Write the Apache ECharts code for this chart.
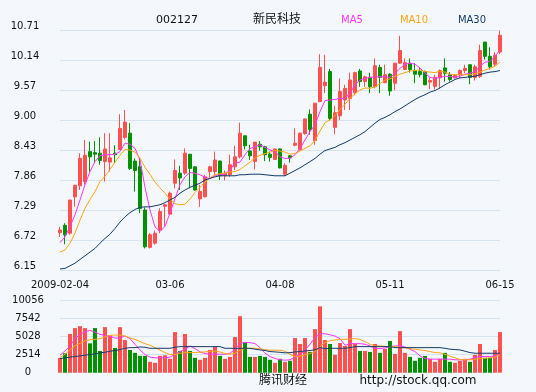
<!DOCTYPE html>
<html><head><meta charset="utf-8">
<script src="https://cdn.jsdelivr.net/npm/echarts@6/dist/echarts.min.js"></script>
<style>html,body{margin:0;padding:0;background:#f4f8fc}#c{width:536px;height:392px}</style>
</head><body><div id="c"></div>
<script>
const dates = ['2009-02-04','2009-02-05','2009-02-06','2009-02-09','2009-02-10','2009-02-11','2009-02-12','2009-02-13','2009-02-16','2009-02-17','2009-02-18','2009-02-19','2009-02-20','2009-02-23','2009-02-24','2009-02-25','2009-02-26','2009-02-27',
'2009-03-02','2009-03-03','2009-03-04','2009-03-05','2009-03-06','2009-03-09','2009-03-10','2009-03-11','2009-03-12','2009-03-13','2009-03-16','2009-03-17','2009-03-18','2009-03-19','2009-03-20','2009-03-23','2009-03-24','2009-03-25','2009-03-26','2009-03-27','2009-03-30','2009-03-31',
'2009-04-01','2009-04-02','2009-04-03','2009-04-07','2009-04-08','2009-04-09','2009-04-10','2009-04-13','2009-04-14','2009-04-15','2009-04-16','2009-04-17','2009-04-20','2009-04-21','2009-04-22','2009-04-23','2009-04-24','2009-04-27','2009-04-28','2009-04-29','2009-04-30',
'2009-05-04','2009-05-05','2009-05-06','2009-05-07','2009-05-08','2009-05-11','2009-05-12','2009-05-13','2009-05-14','2009-05-15','2009-05-18','2009-05-19','2009-05-20','2009-05-21','2009-05-22','2009-05-25','2009-05-26',
'2009-06-01','2009-06-02','2009-06-03','2009-06-04','2009-06-05','2009-06-08','2009-06-09','2009-06-10','2009-06-11','2009-06-12','2009-06-15'];
const labelIndexes = [0, 22, 44, 66, 88];

const opens = [6.86,7.00,6.85,7.54,7.75,7.83,8.40,8.38,8.37,8.21, 8.20,8.37,8.44,8.67,8.75,8.22,8.11,7.29,6.58,6.66,
 6.91,7.36,7.21,7.80,7.99,7.99,8.35,8.11,7.50,7.54, 8.02,8.02,8.22,7.94,7.96,8.11,8.30,8.70,8.41,8.21,
 8.54,8.49,8.35,8.25,8.45,7.97,8.32,8.52,8.44,8.74, 9.11,8.61,9.35,9.65,9.92,8.86,9.08,9.38,9.41,9.52,
 9.93,9.73,9.81,9.63,10.00,9.71,9.87,9.70,10.08,9.96, 10.08,9.94,9.92,9.92,9.72,9.64,9.80,9.99,9.86,9.80,
 9.86,9.94,10.05,9.81,9.83,10.48,10.21,10.06,10.29];
const closes = [6.91,6.82,7.48,7.76,8.27,8.33,8.30,8.35,8.23,8.45, 8.28,8.34,8.84,8.96,8.08,8.04,7.32,6.59,6.82,6.85,
 7.26,7.39,7.61,8.04,7.90,8.37,8.08,7.67,7.64,7.92, 8.11,8.24,7.94,7.99,8.15,8.30,8.75,8.51,8.32,8.58,
 8.49,8.34,8.29,8.45,8.09,8.14,8.28,8.56,8.75,9.02, 8.82,9.32,10.00,9.72,9.03,9.14,9.54,9.60,9.76,9.90,
 9.73,9.82,9.63,10.03,9.81,9.86,9.55,10.08,10.32,10.09, 9.96,9.87,9.86,9.67,9.75,9.81,9.94,9.89,9.77,9.85,
 9.94,9.98,9.81,10.01,10.32,10.21,10.01,10.23,10.61];
const lows = [6.78,6.64,6.82,7.35,7.67,7.77,8.02,8.18,8.15,7.83, 8.02,8.18,8.43,8.63,8.05,7.64,7.23,6.56,6.56,6.63,
 6.85,6.98,7.20,7.70,7.67,7.96,7.70,7.66,7.35,7.53, 7.91,7.96,7.86,7.85,7.92,8.05,8.27,8.44,8.24,8.06,
 8.42,8.22,8.21,8.24,8.08,7.94,8.19,8.50,8.42,8.72, 8.72,8.53,9.34,9.51,8.99,8.73,9.00,9.19,9.19,9.47,
 9.63,9.63,9.51,9.60,9.51,9.70,9.46,9.57,10.07,9.95, 9.90,9.70,9.81,9.66,9.59,9.58,9.60,9.73,9.73,9.79,
 9.80,9.89,9.68,9.75,9.80,10.15,9.96,10.02,10.25];
const highs = [6.97,7.04,7.48,7.77,8.37,8.62,8.59,8.60,8.67,8.75, 8.75,8.52,9.11,9.19,8.94,8.27,8.27,7.34,6.85,6.90,
 7.32,7.40,7.64,8.25,8.13,8.46,8.35,8.12,7.77,7.96, 8.13,8.40,8.23,8.04,8.34,8.51,8.95,8.70,8.53,8.58,
 8.60,8.51,8.40,8.46,8.46,8.18,8.33,8.84,8.76,9.03, 9.20,9.32,10.25,10.24,9.97,9.27,9.79,9.67,9.90,9.92,
 9.97,9.84,9.90,10.17,10.05,10.05,9.89,10.08,10.60,10.17, 10.17,10.08,9.99,9.94,9.81,9.86,9.96,10.17,9.91,9.87,
 9.96,10.05,10.05,10.05,10.43,10.48,10.38,10.29,10.70];

const ma5 = [6.67,6.78,6.97,7.20,7.48,7.77,8.02,8.21,8.32,8.34, 8.34,8.35,8.40,8.56,8.54,8.46,8.24,7.72,7.29,6.97,
 6.88,6.98,7.23,7.51,7.77,7.92,8.00,7.99,7.96,7.91, 7.89,7.94,7.96,7.97,8.05,8.18,8.20,8.34,8.46,8.49,
 8.53,8.48,8.43,8.40,8.30,8.27,8.27,8.34,8.46,8.62, 8.78,8.91,9.16,9.37,9.38,9.39,9.41,9.41,9.51,9.67,
 9.76,9.79,9.81,9.82,9.82,9.82,9.81,9.89,9.98,10.06, 10.08,10.06,9.99,9.89,9.81,9.79,9.81,9.83,9.83,9.81,
 9.83,9.87,9.89,9.92,10.02,10.10,10.11,10.21,10.33];
const ma10 = [6.49,6.53,6.66,6.85,7.10,7.32,7.49,7.64,7.83,7.93, 8.06,8.20,8.33,8.44,8.43,8.39,8.28,8.10,7.97,7.82,
 7.71,7.61,7.49,7.41,7.39,7.40,7.50,7.62,7.72,7.82, 7.90,7.96,7.98,7.99,8.01,8.02,8.06,8.13,8.20,8.28,
 8.33,8.36,8.39,8.42,8.41,8.39,8.35,8.36,8.41,8.46, 8.51,8.61,8.79,8.95,9.00,9.08,9.20,9.30,9.41,9.50,
 9.57,9.61,9.60,9.63,9.69,9.76,9.78,9.83,9.87,9.90, 9.93,9.94,9.95,9.92,9.91,9.90,9.93,9.91,9.87,9.86,
 9.86,9.86,9.86,9.88,9.91,9.95,9.98,10.02,10.10];
const ma30 = [6.17,6.18,6.23,6.28,6.35,6.42,6.49,6.56,6.66,6.75, 6.83,6.94,7.06,7.16,7.24,7.30,7.34,7.35,7.35,7.37,
 7.39,7.43,7.48,7.53,7.61,7.67,7.72,7.76,7.80,7.86, 7.89,7.92,7.94,7.94,7.94,7.94,7.96,7.96,7.97,7.97,
 7.97,7.96,7.95,7.94,7.94,7.94,7.99,8.04,8.09,8.15, 8.21,8.27,8.35,8.42,8.45,8.48,8.53,8.57,8.62,8.67,
 8.72,8.78,8.86,8.94,9.01,9.05,9.10,9.16,9.21,9.27, 9.33,9.39,9.44,9.48,9.53,9.56,9.61,9.67,9.72,9.77,
 9.80,9.81,9.82,9.83,9.86,9.89,9.91,9.92,9.94];

const volumes = [2075,2720,5400,6230,6500,6230,4100,6230,3040,6360, 5210,3460,6360,4560,3180,2770,2350,2350,1520,1380,
 2350,2440,1940,5670,3040,5400,3040,2075,1800,2075, 3180,3640,2350,1940,2210,4980,7890,4290,2210,2210,
 2350,2210,1800,1380,1940,1520,1660,4840,4010,4840, 2900,6090,9270,4560,4010,2490,4150,3730,6090,4010,
 3040,3040,2900,4010,2770,3320,4430,2630,5810,2770, 2210,1660,2075,2350,1940,1520,1940,2770,1520,1380,
 1660,1940,1520,2490,4010,2075,2075,3180,5670];
const volMa5 = [2445,3045,3740,4750,5350,5720,5900,5670,5350,5210, 5070,4840,4840,5120,4750,3970,3180,2540,2170,2075,
 2075,2075,2170,2580,2950,3280,3740,3370,2900,2675, 2580,2580,2580,2580,2720,3280,4060,4240,4200,4060,
 3500,2720,2260,1980,1800,1750,1800,2215,2540,3140, 3970,4890,5440,5440,5300,5120,4750,3830,4060,4060,
 4060,3970,3740,3410,3370,3460,3640,3740,3740,3600, 3280,2950,2350,1980,1890,1890,1890,1890,1890,1800,
 1800,1800,1890,2120,2260,2260,2260,2350,2720];
const volMa10 = [2120,2580,3180,3740,4100,4430,4610,4660,4750,5030, 5210,5260,5260,5120,4840,4660,4340,4060,3830,3500,
 3140,2810,2540,2540,2720,2810,2810,2810,2860,2900, 3000,3000,2900,2675,2580,2720,3140,3370,3410,3410,
 3320,3230,3140,3140,3140,3000,2580,2215,2300,2490, 2675,2950,3640,4200,4470,4570,4660,4660,4700,4750,
 4660,4340,3970,3740,3740,3690,3640,3640,3550,3460, 3370,3280,3180,3090,2950,2810,2770,2580,2300,2075,
 1845,1800,1800,1890,1980,2030,2075,2170,2540];
const volMa30 = [1980,2075,2170,2260,2350,2440,2540,2630,2770,2860, 3000,3090,3230,3410,3500,3500,3600,3550,3410,3410,
 3410,3410,3410,3550,3640,3640,3640,3640,3640,3640, 3640,3640,3640,3410,3410,3410,3410,3410,3410,3280,
 3180,3100,2950,2900,2850,2770,2800,2900,2950,3040, 3100,3200,3500,3370,3410,3410,3410,3410,3500,3640,
 3640,3640,3640,3640,3640,3640,3640,3500,3500,3500, 3500,3500,3500,3500,3500,3500,3500,3410,3280,3230,
 3180,3000,2810,2720,2720,2720,2720,2720,2720];

const priceTicks = [6.15, 6.72, 7.29, 7.86, 8.43, 9.00, 9.57, 10.14, 10.71];
const volumeTicks = [0, 2514, 5028, 7542, 10056];

const UP = '#ff5050', DOWN = '#009100';
const C5 = '#ff33ff', C10 = '#ffa514', C30 = '#133c6c';
const FONT = 'DejaVu Sans';
const GRIDLINE = '#d6e4f1';

const candles = dates.map((d, i) => [opens[i], closes[i], lows[i], highs[i]]);
const volColor = p => closes[p.dataIndex] >= opens[p.dataIndex] ? UP : DOWN;

const chart = echarts.init(document.getElementById('c'), null, {renderer: 'canvas'});
const lineSeries = (name, data, color, xi, yi) => ({
  name, type: 'line', data, xAxisIndex: xi, yAxisIndex: yi,
  symbol: 'none', showSymbol: false, smooth: false, silent: true,
  lineStyle: {color, width: 1}, itemStyle: {color}, z: 5
});
const txt = (text, x, y, size, color) => ({
  type: 'text', x, y, silent: true,
  style: {text, fill: color, font: size + 'px "' + FONT + '", "Noto Sans CJK SC"', align: 'center', verticalAlign: 'middle'}
});

chart.setOption({
  animation: false,
  backgroundColor: '#f4f8fc',
  textStyle: {fontFamily: FONT},
  grid: [
    {left: 60, right: 36, top: 30, height: 240, outerBoundsMode: 'none', containLabel: false},
    {left: 60, right: 36, top: 300.7, height: 72, outerBoundsMode: 'none', containLabel: false}
  ],
  xAxis: [
    {type: 'category', gridIndex: 0, data: dates, boundaryGap: false,
     axisLine: {show: false}, axisTick: {show: false}, splitLine: {show: false},
     axisLabel: {interval: (idx) => labelIndexes.includes(idx), showMinLabel: true, showMaxLabel: true,
       formatter: (v, idx) => idx === 0 ? v : v.slice(5), fontSize: 10, color: '#111', margin: 10, fontFamily: FONT}},
    {type: 'category', gridIndex: 1, data: dates, boundaryGap: false,
     axisLine: {show: false}, axisTick: {show: false}, axisLabel: {show: false}, splitLine: {show: false}}
  ],
  yAxis: [
    {type: 'value', gridIndex: 0, min: priceTicks[0], max: priceTicks[priceTicks.length - 1],
     interval: +(priceTicks[1] - priceTicks[0]).toFixed(2), scale: true,
     axisLine: {show: false}, axisTick: {show: false},
     splitLine: {show: true, lineStyle: {color: GRIDLINE, width: 1}},
     axisLabel: {formatter: v => v.toFixed(2), fontSize: 10, color: '#111', align: 'center', margin: 35,
       verticalAlign: 'bottom', lineHeight: 8, fontFamily: FONT}},
    {type: 'value', gridIndex: 1, min: volumeTicks[0], max: volumeTicks[volumeTicks.length - 1],
     interval: volumeTicks[1] - volumeTicks[0],
     axisLine: {show: false}, axisTick: {show: false},
     splitLine: {show: true, lineStyle: {color: GRIDLINE, width: 1}},
     axisLabel: {formatter: v => String(Math.round(v)), fontSize: 10, color: '#111', align: 'center', margin: 32, fontFamily: FONT}}
  ],
  series: [
    {name: 'K', type: 'candlestick', data: candles, xAxisIndex: 0, yAxisIndex: 0, barWidth: 3, clip: false,
     itemStyle: {color: UP, color0: DOWN, borderColor: UP, borderColor0: DOWN, borderWidth: 1}, z: 2},
    lineSeries('MA5', ma5, C5, 0, 0),
    lineSeries('MA10', ma10, C10, 0, 0),
    lineSeries('MA30', ma30, C30, 0, 0),
    {name: 'VOL', type: 'bar', data: volumes, xAxisIndex: 1, yAxisIndex: 1, barWidth: 4, clip: false,
     itemStyle: {color: volColor}, z: 2},
    lineSeries('VMA5', volMa5, C5, 1, 1),
    lineSeries('VMA10', volMa10, C10, 1, 1),
    lineSeries('VMA30', volMa30, C30, 1, 1)
  ],
  graphic: [
    txt('002127', 177, 20, 11, '#111'),
    txt('新民科技', 277, 20, 12, '#111'),
    txt('MA5', 352, 20, 10, C5),
    txt('MA10', 414, 20, 10, C10),
    txt('MA30', 472, 20, 10, C30),
    txt('腾讯财经', 283, 381, 12, '#111'),
    txt('http://stock.qq.com', 418, 381, 12, '#111')
  ]
});
</script>
</body></html>
